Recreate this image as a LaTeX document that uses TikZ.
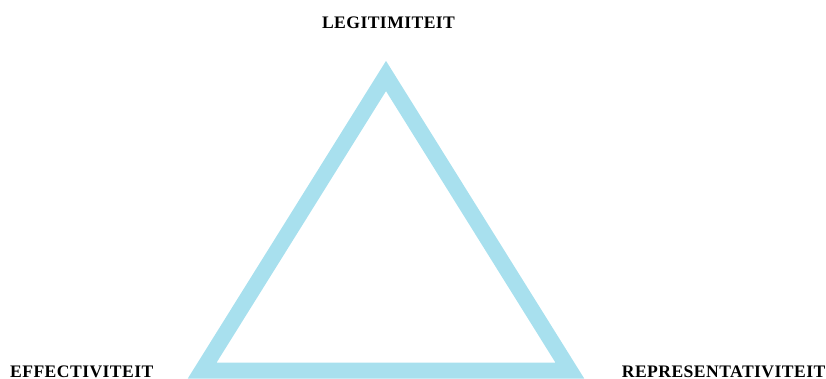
\documentclass[tikz,border=0pt]{standalone}
\usepackage{fontspec}
\setmainfont{Liberation Serif}
\newfontfamily\labelfont[LetterSpace=2.5]{Liberation Serif}
\definecolor{triblue}{RGB}{168,224,238}
\begin{document}
\begin{tikzpicture}[x=1pt,y=-1pt,
  lbl/.style={inner sep=0pt,font=\labelfont\fontsize{17.6}{20}\selectfont\bfseries,text=black}]
\useasboundingbox (0,0) rectangle (826,379);
\draw[triblue,line width=16pt,line join=miter,miter limit=10]
  (386,76) -- (202.2,370.5) -- (569.8,370.5) -- cycle;
\node[lbl,anchor=base] (leg) at (388.5,28.5) {LEGITIMITEIT};
\node[lbl,anchor=base west] (eff) at (10,377.5) {EFFECTIVITEIT};
\node[lbl,anchor=base east] (rep) at (825.5,377.5) {REPRESENTATIVITEIT};
\end{tikzpicture}
\end{document}
